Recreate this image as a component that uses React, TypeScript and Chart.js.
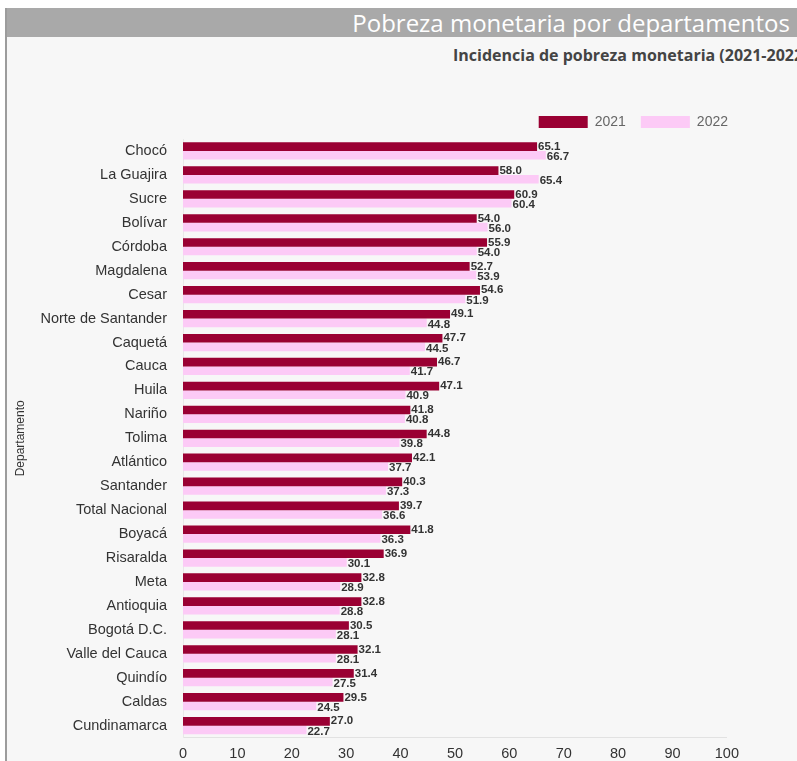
import React, { useEffect, useRef } from "react";
import { Chart, registerables } from "chart.js";

Chart.register(...registerables);

const departamentos = [
  "Chocó", "La Guajira", "Sucre", "Bolívar", "Córdoba", "Magdalena", "Cesar",
  "Norte de Santander", "Caquetá", "Cauca", "Huila", "Nariño", "Tolima",
  "Atlántico", "Santander", "Total Nacional", "Boyacá", "Risaralda", "Meta",
  "Antioquia", "Bogotá D.C.", "Valle del Cauca", "Quindío", "Caldas", "Cundinamarca",
];
const pobreza2021 = [
  65.1, 58.0, 60.9, 54.0, 55.9, 52.7, 54.6, 49.1, 47.7, 46.7, 47.1, 41.8, 44.8,
  42.1, 40.3, 39.7, 41.8, 36.9, 32.8, 32.8, 30.5, 32.1, 31.4, 29.5, 27.0,
];
const pobreza2022 = [
  66.7, 65.4, 60.4, 56.0, 54.0, 53.9, 51.9, 44.8, 44.5, 41.7, 40.9, 40.8, 39.8,
  37.7, 37.3, 36.6, 36.3, 30.1, 28.9, 28.8, 28.1, 28.1, 27.5, 24.5, 22.7,
];
const xTicks = [0, 10, 20, 30, 40, 50, 60, 70, 80, 90, 100];

const labelPlugin = {
  id: "barLabels",
  afterLayout(chart: any) {
    if (chart.legend) {
      chart.legend.left += 11;
      chart.legend.right += 11;
    }
  },
  afterDatasetsDraw(chart: any) {
    const ctx = chart.ctx;
    ctx.save();
    ctx.font = "bold 11.5px 'Liberation Sans', Arial, sans-serif";
    ctx.fillStyle = "#333333";
    ctx.textAlign = "left";
    ctx.textBaseline = "middle";
    chart.data.datasets.forEach((ds: any, di: number) => {
      const meta = chart.getDatasetMeta(di);
      meta.data.forEach((bar: any, i: number) => {
        const v = ds.data[i];
        ctx.fillText(v.toFixed(1), bar.x + 1, bar.y + (di === 0 ? 0 : 1.5));
      });
    });
    ctx.restore();
  },
};

export default function App() {
  const ref = useRef<HTMLCanvasElement>(null);
  useEffect(() => {
    if (!ref.current) return;
    const chart = new Chart(ref.current, {
      type: "bar",
      data: {
        labels: departamentos,
        datasets: [
          {
            label: "2021",
            data: pobreza2021,
            backgroundColor: "#9a0033",
            categoryPercentage: 0.72,
            barPercentage: 1.0,
          },
          {
            label: "2022",
            data: pobreza2022,
            backgroundColor: "#fccaf6",
            categoryPercentage: 0.72,
            barPercentage: 1.0,
          },
        ],
      },
      options: {
        indexAxis: "y",
        responsive: false,
        animation: false,
        layout: { padding: { left: 0, right: 15, top: 0, bottom: 0 } },
        plugins: {
          legend: {
            position: "top",
            align: "end",
            labels: {
              boxWidth: 49,
              boxHeight: 12,
              padding: 15,
              color: "#666666",
              font: { family: "'Liberation Sans', Arial, sans-serif", size: 14 },
            },
          },
          tooltip: { enabled: false },
        },
        scales: {
          x: {
            min: 0,
            max: 100,
            afterBuildTicks: (scale: any) => {
              scale.ticks = xTicks.map((v) => ({ value: v }));
            },
            grid: { display: false, drawTicks: false },
            border: { display: true, color: "#e2e2e2" },
            ticks: {
              padding: 8,
              color: "#333333",
              font: { family: "'Liberation Sans', Arial, sans-serif", size: 14.5 },
            },
          },
          y: {
            afterFit: (scale: any) => {
              scale.width = 176;
            },
            grid: { display: false, drawTicks: false },
            border: { display: true, color: "#e8e8e8" },
            ticks: {
              padding: 16,
              color: "#333333",
              font: { family: "'Liberation Sans', Arial, sans-serif", size: 14.5 },
            },
            title: {
              display: true,
              text: "Departamento",
              color: "#333333",
              padding: { top: 6, bottom: 4 },
              font: { family: "'Liberation Sans Narrow', 'Arial Narrow', sans-serif", size: 12 },
            },
          },
        },
      },
      plugins: [labelPlugin],
    } as any);
    return () => chart.destroy();
  }, []);

  return (
    <div style={{ position: "fixed", left: 0, top: 0, width: 797, height: 761, background: "#ffffff", overflow: "hidden" }}>
      <div style={{ position: "absolute", left: 5, top: 8, width: 2, height: 753, background: "#9c9c9c" }} />
      <div style={{ position: "absolute", left: 7, top: 8, width: 790, height: 753, background: "#f7f7f7" }} />
      <div
        style={{
          position: "absolute",
          left: 7,
          top: 8,
          width: 790,
          height: 29,
          background: "#a9a9a9",
          color: "#ffffff",
          fontFamily: "'Open Sans', sans-serif",
          fontSize: 24,
          lineHeight: "29px",
          textAlign: "right",
          paddingRight: 7,
          boxSizing: "border-box",
          whiteSpace: "nowrap",
        }}
      >
        Pobreza monetaria por departamentos
      </div>
      <div
        style={{
          position: "absolute",
          left: 453,
          top: 44,
          color: "#444444",
          fontFamily: "'Open Sans', sans-serif",
          fontWeight: 700,
          fontSize: 16,
          whiteSpace: "nowrap",
        }}
      >
        Incidencia de pobreza monetaria (2021-2022)
      </div>
      <canvas ref={ref} width={740} height={671} style={{ position: "absolute", left: 7, top: 100 }} />
    </div>
  );
}
